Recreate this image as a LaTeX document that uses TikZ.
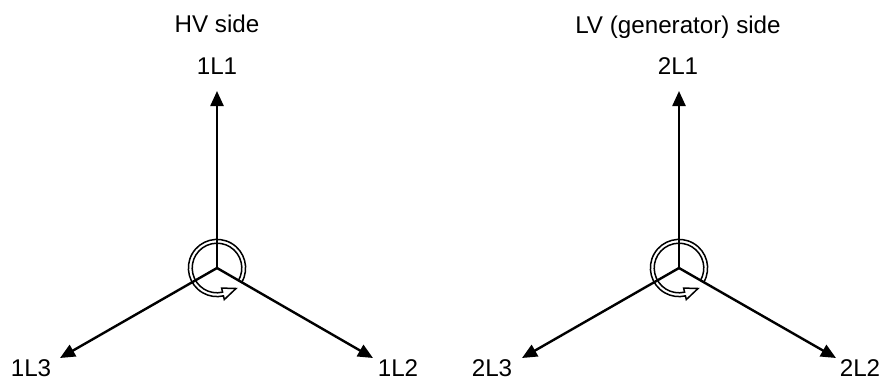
\documentclass[tikz,border=0pt]{standalone}
\usepackage{fontspec}
\setmainfont{Liberation Sans}
\usetikzlibrary{arrows.meta}
\tikzset{
  phase/.style={line width=2.4pt, -{Triangle[length=15pt,width=13pt]}},
  lbl/.style={anchor=base, inner sep=0pt, font=\fontsize{24.2}{29}\selectfont},
  ringline/.style={line width=1.5pt, line join=miter}
}
\begin{document}
\begin{tikzpicture}[x=1pt,y=-1pt]
\useasboundingbox (0,0) rectangle (883,381);
% ---- HV side ----
\coordinate (c1) at (217,268);
\coordinate (t11) at (217,91);
\coordinate (t12) at (373,358);
\coordinate (t13) at (60,358);
\node[lbl] (hv) at (217,32.5) {HV side};
\node[lbl] (l11) at (217,74) {1L1};
\node[lbl] (l12) at (398,376.5) {1L2};
\node[lbl] (l13) at (31,376.5) {1L3};
\draw[phase] (c1) -- (t11);
\draw[phase] (c1) -- (t12);
\draw[phase] (c1) -- (t13);
\begin{scope}[shift={(c1)}, y=1pt]
\draw[ringline] (-30:28.6) arc[start angle=-30, end angle=283, radius=28.6]
  -- (283:32.4) -- (19,-20.5) -- (283:20.6) -- (283:24.8)
  arc[start angle=283, end angle=-30, radius=24.8] -- cycle;
\end{scope}
% ---- LV side ----
\coordinate (c2) at (679,268);
\coordinate (t21) at (679,91);
\coordinate (t22) at (836,358);
\coordinate (t23) at (522,358);
\node[lbl] (lv) at (678,33) {LV (generator) side};
\node[lbl] (l21) at (678,74.5) {2L1};
\node[lbl] (l22) at (860,376.5) {2L2};
\node[lbl] (l23) at (492,376.5) {2L3};
\draw[phase] (c2) -- (t21);
\draw[phase] (c2) -- (t22);
\draw[phase] (c2) -- (t23);
\begin{scope}[shift={(c2)}, y=1pt]
\draw[ringline] (-30:28.6) arc[start angle=-30, end angle=283, radius=28.6]
  -- (283:32.4) -- (19,-20.5) -- (283:20.6) -- (283:24.8)
  arc[start angle=283, end angle=-30, radius=24.8] -- cycle;
\end{scope}
\end{tikzpicture}
\end{document}
